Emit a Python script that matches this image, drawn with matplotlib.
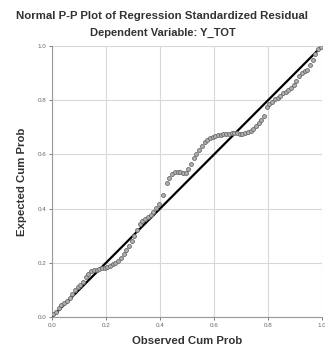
import matplotlib
matplotlib.use("Agg")
import matplotlib.pyplot as plt
import numpy as np

# observed vs expected cumulative probabilities
observed = [0.005, 0.015, 0.025, 0.035, 0.045, 0.055, 0.065, 0.075, 0.085, 0.095,
            0.105, 0.115, 0.125, 0.135, 0.145, 0.155, 0.165, 0.175, 0.185, 0.195,
            0.205, 0.215, 0.225, 0.235, 0.245, 0.255, 0.265, 0.275, 0.285, 0.295,
            0.305, 0.315, 0.325, 0.335, 0.345, 0.355, 0.365, 0.375, 0.385, 0.395,
            0.410, 0.425, 0.435, 0.445, 0.455, 0.465, 0.475, 0.485, 0.495, 0.505,
            0.515, 0.525, 0.535, 0.545, 0.555, 0.565, 0.575, 0.585, 0.595, 0.605,
            0.615, 0.625, 0.635, 0.645, 0.655, 0.665, 0.675, 0.685, 0.695, 0.705,
            0.715, 0.725, 0.735, 0.745, 0.755, 0.765, 0.775, 0.785, 0.795, 0.805,
            0.815, 0.825, 0.835, 0.845, 0.855, 0.865, 0.875, 0.885, 0.895, 0.905,
            0.915, 0.925, 0.935, 0.945, 0.955, 0.965, 0.975, 0.985, 0.995]
expected = [0.010, 0.020, 0.035, 0.045, 0.050, 0.058, 0.070, 0.085, 0.100, 0.110,
            0.118, 0.130, 0.148, 0.160, 0.168, 0.172, 0.175, 0.178, 0.180, 0.182,
            0.185, 0.190, 0.195, 0.200, 0.208, 0.218, 0.232, 0.248, 0.262, 0.280,
            0.300, 0.322, 0.345, 0.355, 0.362, 0.368, 0.375, 0.388, 0.402, 0.418,
            0.450, 0.493, 0.512, 0.528, 0.534, 0.536, 0.535, 0.532, 0.532, 0.545,
            0.565, 0.585, 0.600, 0.615, 0.630, 0.645, 0.655, 0.660, 0.664, 0.668,
            0.671, 0.673, 0.675, 0.676, 0.677, 0.678, 0.678, 0.678, 0.677, 0.675,
            0.678, 0.682, 0.688, 0.695, 0.705, 0.715, 0.727, 0.740, 0.776, 0.785,
            0.795, 0.803, 0.810, 0.817, 0.825, 0.832, 0.838, 0.845, 0.855, 0.872,
            0.888, 0.900, 0.906, 0.912, 0.930, 0.950, 0.970, 0.988, 0.995]

ticks = [0.0, 0.2, 0.4, 0.6, 0.8, 1.0]
tick_labels = ["0.0", "0.2", "0.4", "0.6", "0.8", "1.0"]

plt.rcParams['font.family'] = ['Liberation Sans', 'DejaVu Sans']

fig = plt.figure(figsize=(3.25, 3.54), dpi=100)
ax = fig.add_axes([0.16, 0.1045, 0.831, 0.7655])

ax.set_xlim(0, 1)
ax.set_ylim(0, 1)
ax.set_xticks(ticks)
ax.set_yticks(ticks)
ax.set_xticklabels(tick_labels)
ax.set_yticklabels(tick_labels)
ax.tick_params(labelsize=4.5, colors="#666666", length=2, width=0.6, pad=2)
ax.grid(True, color="#d8d8d8", linewidth=0.8)
ax.set_axisbelow(True)
for side in ["top", "right"]:
    ax.spines[side].set_visible(False)
for side in ["left", "bottom"]:
    ax.spines[side].set_color("#999999")
    ax.spines[side].set_linewidth(0.8)

# diagonal reference line
ax.plot([0, 1], [0, 1], color="black", linewidth=1.6, zorder=3)

ax.scatter(observed, expected, s=8, facecolor="#b0b0b0", edgecolor="#6a6a6a",
           linewidth=0.6, zorder=4)

fig.text(0.5, 0.955, "Normal P-P Plot of Regression Standardized Residual",
         ha="center", va="center", fontsize=8.2, fontweight="bold", color="#333333")
fig.text(0.5, 0.908, "Dependent Variable: Y_TOT",
         ha="center", va="center", fontsize=8.0, fontweight="bold", color="#333333")
ax.set_xlabel("Observed Cum Prob", fontsize=8.2, fontweight="bold", color="#333333", labelpad=6)
ax.set_ylabel("Expected Cum Prob", fontsize=8.2, fontweight="bold", color="#333333", labelpad=8)

fig.savefig("out.png", dpi=100)
